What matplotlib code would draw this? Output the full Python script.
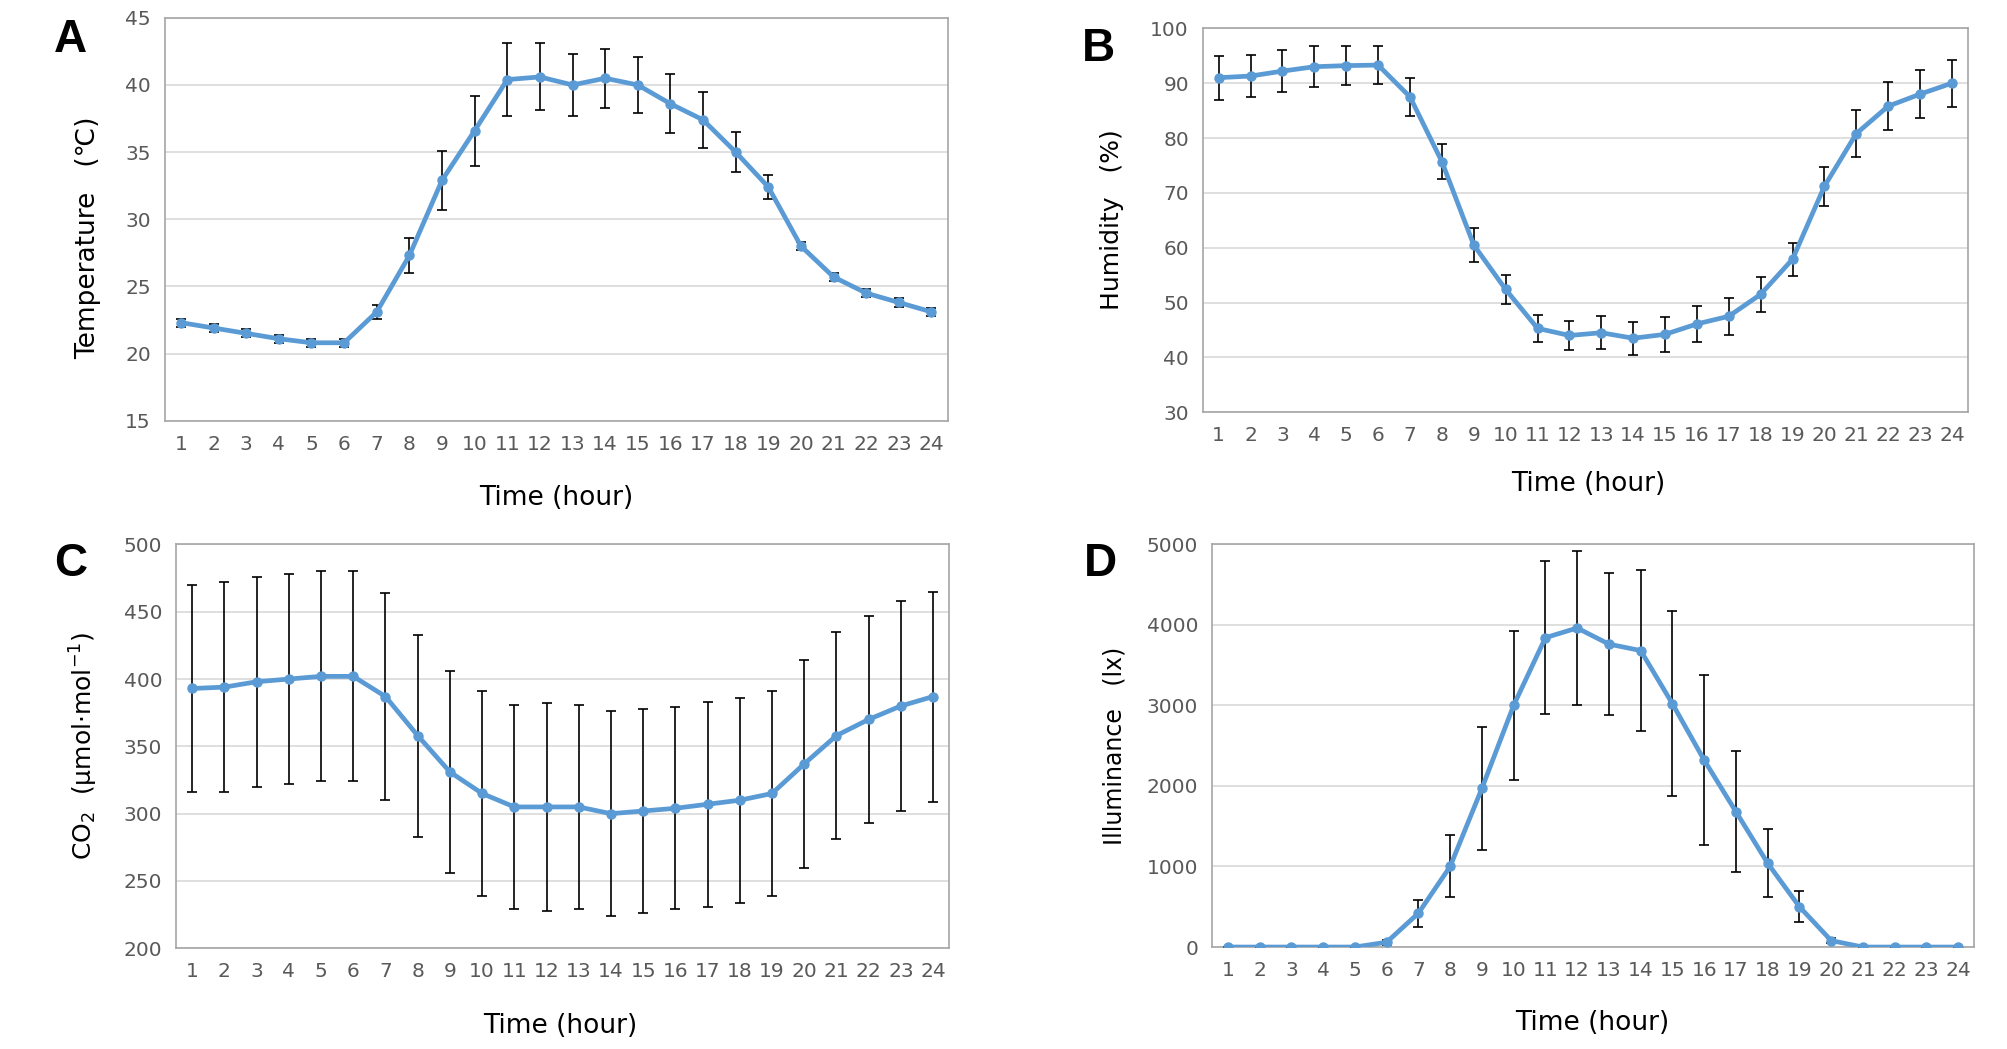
import matplotlib
matplotlib.use("Agg")
import matplotlib.pyplot as plt
import numpy as np

# data
hours = list(range(1, 25))

temp = [22.3, 21.9, 21.5, 21.1, 20.8, 20.8, 23.1, 27.3, 32.9, 36.6, 40.4, 40.6,
        40.0, 40.5, 40.0, 38.6, 37.4, 35.0, 32.4, 28.0, 25.7, 24.5, 23.8, 23.1]
temp_err = [0.3, 0.3, 0.3, 0.3, 0.3, 0.3, 0.5, 1.3, 2.2, 2.6, 2.7, 2.5,
            2.3, 2.2, 2.1, 2.2, 2.1, 1.5, 0.9, 0.3, 0.3, 0.3, 0.3, 0.3]

humid = [91.0, 91.3, 92.2, 93.0, 93.2, 93.3, 87.5, 75.7, 60.5, 52.4, 45.3, 44.0,
         44.5, 43.5, 44.2, 46.1, 47.5, 51.5, 57.9, 71.2, 80.8, 85.8, 88.0, 90.0]
humid_err = [4.0, 3.9, 3.8, 3.7, 3.6, 3.5, 3.4, 3.2, 3.1, 2.7, 2.5, 2.6,
             3.0, 3.0, 3.2, 3.2, 3.4, 3.2, 3.0, 3.6, 4.3, 4.4, 4.4, 4.3]

co2 = [393, 394, 398, 400, 402, 402, 387, 358, 331, 315, 305, 305,
       305, 300, 302, 304, 307, 310, 315, 337, 358, 370, 380, 387]
co2_err = [77, 78, 78, 78, 78, 78, 77, 75, 75, 76, 76, 77,
           76, 76, 76, 75, 76, 76, 76, 77, 77, 77, 78, 78]

lux = [0, 0, 0, 0, 0, 60, 420, 1000, 1970, 3000, 3840, 3960,
       3760, 3680, 3020, 2320, 1680, 1040, 500, 80, 0, 0, 0, 0]
lux_err = [0, 0, 0, 0, 0, 30, 170, 385, 760, 925, 950, 960,
           885, 1000, 1145, 1055, 750, 420, 195, 30, 0, 0, 0, 0]

line_color = "#5B9BD5"
tick_font = ["DejaVu Sans"]

fig = plt.figure(figsize=(20.08, 10.49), dpi=100)

panels = [
    # letter, rect, y, err, ylim, yticks, ylabel, label size, letter pos, ylabel pos, xlabel pos
    ("A", [0.082, 0.599, 0.390, 0.384], temp, temp_err, (15, 45), np.arange(15, 46, 5),
     "Temperature   (\u2103)", 19, (0.035, 0.962), (0.044, 0.773), (0.277, 0.525)),
    ("B", [0.599, 0.607, 0.381, 0.366], humid, humid_err, (30, 100), np.arange(30, 101, 10),
     "Humidity   (%)", 18, (0.547, 0.953), (0.554, 0.791), (0.791, 0.539)),
    ("C", [0.0877, 0.096, 0.385, 0.385], co2, co2_err, (200, 500), np.arange(200, 501, 50),
     "CO$_2$  (\u03bcmol\u00b7mol$^{-1}$)", 18, (0.035, 0.462), (0.042, 0.289), (0.279, 0.022)),
    ("D", [0.6036, 0.0972, 0.3795, 0.384], lux, lux_err, (0, 5000), np.arange(0, 5001, 1000),
     "Illuminance   (lx)", 17, (0.548, 0.462), (0.555, 0.289), (0.793, 0.025)),
]

for letter, rect, y, err, ylim, yticks, ylabel, lsize, lpos, ypos, xpos in panels:
    ax = fig.add_axes(rect)
    ax.errorbar(hours, y, yerr=err, color=line_color, lw=3.4, marker="o", ms=6.5,
                ecolor="black", elinewidth=1.2, capsize=3.5, capthick=1.2, zorder=3)
    ax.set_xlim(0.5, 24.5)
    ax.set_ylim(*ylim)
    ax.set_xticks(hours)
    ax.set_yticks(yticks)
    ax.yaxis.grid(True, color="#D9D9D9", lw=1.2)
    ax.set_axisbelow(True)
    for s in ax.spines.values():
        s.set_color("#A6A6A6")
        s.set_linewidth(1.2)
    ax.tick_params(length=0, labelsize=14.5, labelcolor="#595959", pad=10)
    for lab in ax.get_xticklabels() + ax.get_yticklabels():
        lab.set_family(tick_font)
    fig.text(lpos[0], lpos[1], letter, fontsize=33, fontweight="bold",
             ha="center", va="center", family="Liberation Sans")
    fig.text(ypos[0], ypos[1], ylabel, fontsize=lsize, rotation=90,
             ha="center", va="center", family="DejaVu Sans")
    fig.text(xpos[0], xpos[1], "Time (hour)", fontsize=19,
             ha="center", va="center", family=tick_font)

fig.savefig("out.png", dpi=100, facecolor="white")
